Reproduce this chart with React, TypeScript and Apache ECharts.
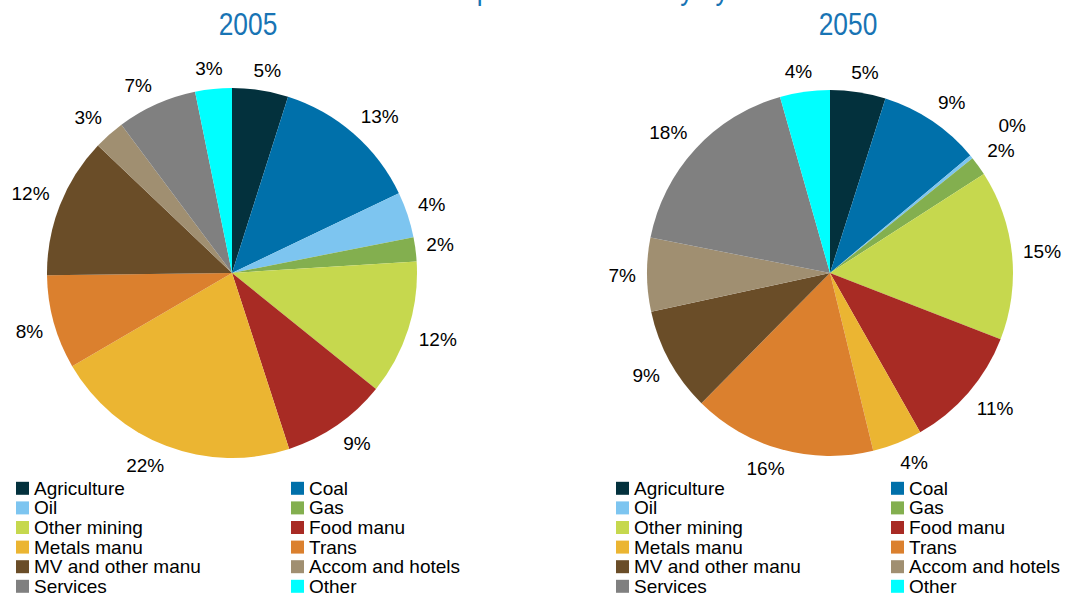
import React, { useEffect, useRef } from "react";
import * as echarts from "echarts";

const categories = [
  "Agriculture", "Coal", "Oil", "Gas", "Other mining", "Food manu",
  "Metals manu", "Trans", "MV and other manu", "Accom and hotels", "Services", "Other",
];
const colors = [
  "#03313D", "#0070AA", "#7DC5F0", "#83AF4F", "#C6D84E", "#A82B24",
  "#EBB532", "#DB802E", "#6A4D28", "#A08F71", "#808080", "#00FFFF",
];
const shares2005 = [4.9, 13.0, 4.0, 2.1, 11.8, 9.2, 21.6, 8.2, 12.3, 2.7, 7.0, 3.2];
const shares2050 = [4.9, 9.0, 0.3, 1.7, 15.0, 10.9, 4.4, 16.2, 9.2, 6.5, 17.5, 4.4];
const years = ["2005", "2050"];
const chartTitle = "Shape of the economy by sector";

const FONT = "'Liberation Sans', Arial, Helvetica, sans-serif";
const TITLE_COLOR = "#1874B4";

const clamp = (v: number) => Math.max(-1, Math.min(1, v));

function makeLabelLayout(values: number[], cx: number, cy: number, r: number) {
  const total = values.reduce((a, b) => a + b, 0);
  return (params: any) => {
    const i = params.dataIndex;
    let cum = 0;
    for (let j = 0; j < i; j++) cum += values[j];
    const mid = ((cum + values[i] / 2) / total) * Math.PI * 2;
    const dx = Math.sin(mid);
    const dy = -Math.cos(mid);
    const w = params.labelRect.width;
    const hh = 9;
    const extra = values[i] / total < 0.01 ? 24 : 0;
    const d = r + 11 + extra;
    const x = cx + dx * d + (w / 2) * clamp(dx * 2.5);
    const y = cy + dy * d + hh * clamp(dy * 2.5);
    return { x, y, align: "center", verticalAlign: "middle" };
  };
}

function pieSeries(values: number[], cx: number, cy: number, r: number) {
  return {
    type: "pie",
    center: [cx, cy],
    radius: r,
    startAngle: 90,
    clockwise: true,
    avoidLabelOverlap: false,
    silent: true,
    emphasis: { disabled: true },
    itemStyle: { borderWidth: 0 },
    data: categories.map((name, i) => ({ name, value: values[i], itemStyle: { color: colors[i] } })),
    label: {
      show: true,
      position: "outside",
      formatter: (p: any) => Math.round(p.value) + "%",
      fontSize: 19,
      color: "#000",
      fontFamily: FONT,
    },
    labelLine: { show: false },
    labelLayout: makeLabelLayout(values, cx, cy, r),
  };
}

function legendCol(left: number, names: string[]) {
  return {
    orient: "vertical",
    left,
    top: 478.5,
    height: 150,
    padding: 0,
    itemGap: 0,
    itemWidth: 13,
    itemHeight: 13,
    icon: "rect",
    selectedMode: false,
    data: names,
    textStyle: { fontSize: 19, lineHeight: 19.6, color: "#000", fontFamily: FONT },
  };
}

function titleText(text: string, x: number, y: number) {
  return {
    type: "text",
    x,
    y,
    scaleX: 0.85,
    style: { text, align: "center", verticalAlign: "middle", fontSize: 31, fontFamily: FONT, fill: TITLE_COLOR },
  };
}

export default function App() {
  const ref = useRef<HTMLDivElement>(null);
  useEffect(() => {
    if (!ref.current) return;
    const chart = echarts.init(ref.current, null, { renderer: "svg" });
    const col1 = categories.filter((_, i) => i % 2 === 0);
    const col2 = categories.filter((_, i) => i % 2 === 1);
    chart.setOption({
      animation: false,
      backgroundColor: "#fff",
      graphic: [
        {
          type: "text", x: 430, y: -12, scaleX: 0.85,
          style: { text: chartTitle, align: "left", verticalAlign: "middle", fontSize: 31, fontFamily: FONT, fill: TITLE_COLOR },
        },
        titleText(years[0], 248, 24),
        titleText(years[1], 848, 24),
      ],
      legend: [legendCol(16, col1), legendCol(291, col2), legendCol(616, col1), legendCol(891, col2)],
      series: [pieSeries(shares2005, 232, 273, 185), pieSeries(shares2050, 830, 273, 183)],
    });
    return () => chart.dispose();
  }, []);
  return (
    <div
      ref={ref}
      style={{ position: "absolute", left: 0, top: 0, width: 1072, height: 596, background: "#fff" }}
    />
  );
}
